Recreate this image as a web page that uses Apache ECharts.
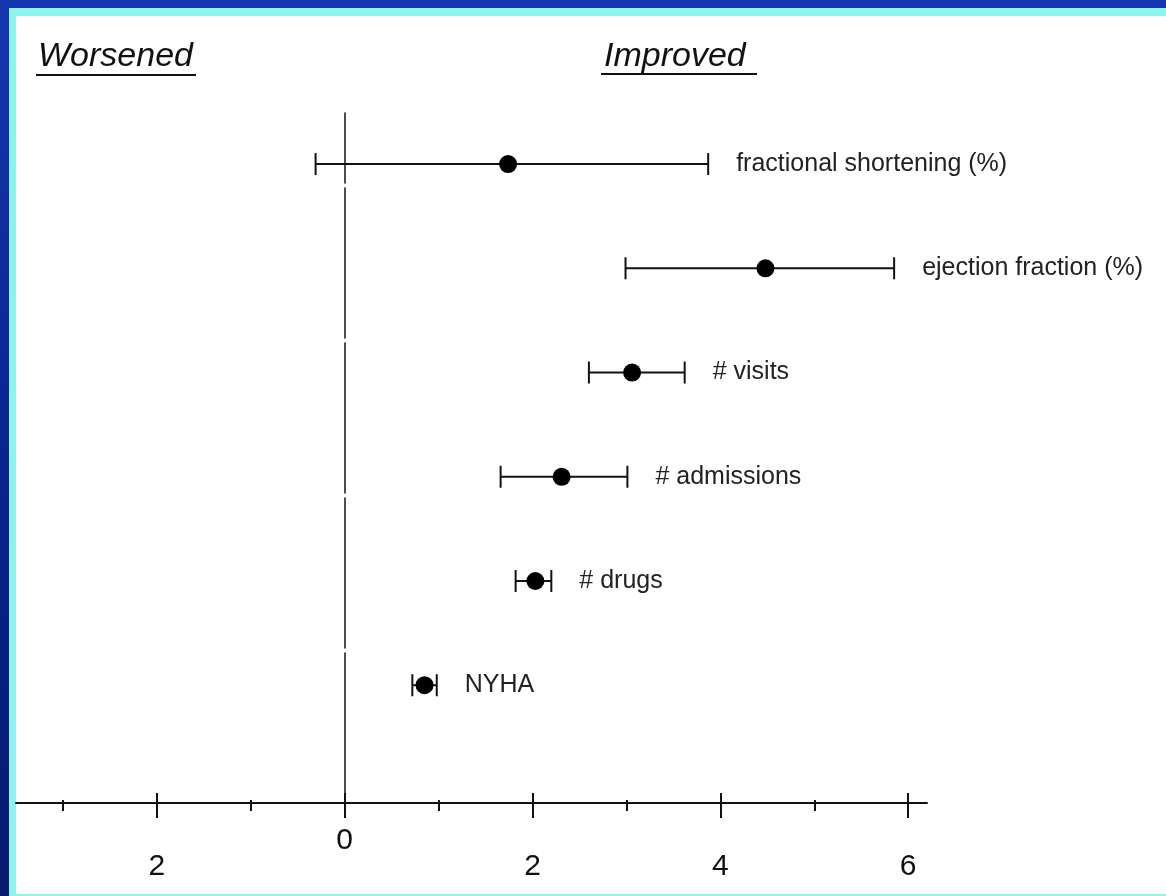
<!DOCTYPE html>
<html>
<head>
<meta charset="utf-8">
<script src="https://cdn.jsdelivr.net/npm/echarts@6/dist/echarts.min.js"></script>
<style>
  html, body { margin: 0; padding: 0; width: 1166px; height: 896px; overflow: hidden; }
  body { background: linear-gradient(180deg, #1537b0 0%, #0a2490 50%, #061a6e 100%); position: relative; }
  #frame { position: absolute; left: 9px; top: 8px; width: 1170px; height: 895px; background: #8ef3ec; }
  #panel { position: absolute; left: 16px; top: 16px; width: 1160px; height: 878px; background: #ffffff; }
  #chart { position: absolute; left: 0; top: 0; width: 1166px; height: 896px; }
</style>
</head>
<body>
<div id="frame"></div>
<div id="panel"></div>
<div id="chart"></div>
<script>
// ---- data ----
const categories = ['fractional shortening (%)', 'ejection fraction (%)', '# visits', '# admissions', '# drugs', 'NYHA'];
const estimates = [1.74, 4.48, 3.06, 2.31, 2.03, 0.85];
const lower     = [-0.31, 2.99, 2.60, 1.66, 1.82, 0.72];
const upper     = [3.87, 5.85, 3.62, 3.01, 2.20, 0.98];
const majorTicks = [-2, 0, 2, 4, 6];
const minorTicks = [-3, -1, 1, 3, 5];
const headings = ['Worsened', 'Improved'];

// ---- build ----
const n = categories.length;
const rowPos = categories.map((c, i) => n - i);
const ciData = categories.map((c, i) => [lower[i], upper[i], rowPos[i], c]);
const dotData = categories.map((c, i) => [estimates[i], rowPos[i]]);

const FONT = '"Liberation Sans", Arial, sans-serif';
const INK = '#111111';

const chart = echarts.init(document.getElementById('chart'));

const baseX = { type: 'value', min: -3.5, max: 6.2, gridIndex: 0, splitLine: { show: false } };

chart.setOption({
  animation: false,
  backgroundColor: 'transparent',
  grid: { left: 16, right: 239, top: 113, bottom: 93, containLabel: false },
  xAxis: [
    Object.assign({}, baseX, {
      position: 'bottom',
      axisLine: { show: true, onZero: false, lineStyle: { color: INK, width: 2 } },
      axisTick: { show: true, inside: false, length: 15, customValues: majorTicks, lineStyle: { color: INK, width: 2 } },
      axisLabel: {
        show: true, customValues: majorTicks, margin: 23,
        formatter: v => (v === 0 ? '{z|0}' : '{n|' + Math.abs(v) + '}'),
        rich: {
          z: { fontSize: 30, fontFamily: FONT, color: INK },
          n: { fontSize: 30, fontFamily: FONT, color: INK, padding: [26, 0, 0, 0] }
        }
      }
    }),
    Object.assign({}, baseX, {
      position: 'bottom',
      axisLine: { show: false, onZero: false },
      axisTick: { show: true, inside: true, length: 10, customValues: majorTicks, lineStyle: { color: INK, width: 2 } },
      axisLabel: { show: false }
    }),
    Object.assign({}, baseX, {
      position: 'bottom',
      axisLine: { show: false, onZero: false },
      axisTick: { show: true, inside: false, length: 8, customValues: minorTicks, lineStyle: { color: INK, width: 2 } },
      axisLabel: { show: false }
    }),
    Object.assign({}, baseX, {
      position: 'bottom',
      axisLine: { show: false, onZero: false },
      axisTick: { show: true, inside: true, length: 3, customValues: minorTicks, lineStyle: { color: INK, width: 2 } },
      axisLabel: { show: false }
    })
  ],
  yAxis: {
    type: 'value', min: -0.13, max: 6.49,
    axisLine: { show: true, onZero: true, lineStyle: { color: '#222', width: 1.6, type: [150, 5] } },
    axisTick: { show: false }, axisLabel: { show: false }, splitLine: { show: false }
  },
  graphic: [
    { type: 'text', left: 38, top: 40, style: { text: headings[0], font: 'italic 34px ' + FONT, fill: INK } },
    { type: 'line', shape: { x1: 36, y1: 75, x2: 196, y2: 75 }, style: { stroke: INK, lineWidth: 2 } },
    { type: 'text', left: 604, top: 40, style: { text: headings[1], font: 'italic 34px ' + FONT, fill: INK } },
    { type: 'line', shape: { x1: 601, y1: 74, x2: 757, y2: 74 }, style: { stroke: INK, lineWidth: 2 } }
  ],
  series: [
    {
      type: 'custom',
      xAxisIndex: 0,
      data: ciData,
      renderItem: function (params, api) {
        const y = api.value(2);
        const p1 = api.coord([api.value(0), y]);
        const p2 = api.coord([api.value(1), y]);
        const h = 11;
        const st = { stroke: INK, lineWidth: 2 };
        return {
          type: 'group',
          children: [
            { type: 'line', shape: { x1: p1[0], y1: p1[1], x2: p2[0], y2: p2[1] }, style: st },
            { type: 'line', shape: { x1: p1[0], y1: p1[1] - h, x2: p1[0], y2: p1[1] + h }, style: st },
            { type: 'line', shape: { x1: p2[0], y1: p2[1] - h, x2: p2[0], y2: p2[1] + h }, style: st },
            { type: 'text', style: { text: categories[params.dataIndex], x: p2[0] + 28, y: p2[1], font: '25px ' + FONT, fill: '#222', verticalAlign: 'middle', align: 'left' } }
          ]
        };
      },
      z: 2
    },
    {
      type: 'scatter',
      xAxisIndex: 0,
      data: dotData,
      symbol: 'circle',
      symbolSize: 18,
      itemStyle: { color: '#000', opacity: 1 },
      z: 3
    }
  ]
});
</script>
</body>
</html>
